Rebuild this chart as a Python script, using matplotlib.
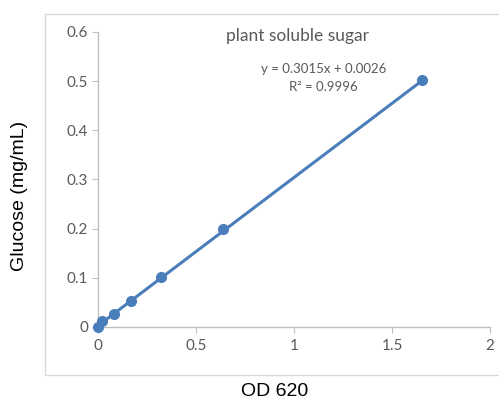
import matplotlib.pyplot as plt
import matplotlib.patches as mpatches
import numpy as np

# data
od620 = [0, 0.018, 0.08, 0.17, 0.32, 0.64, 1.655]
glucose = [0, 0.012, 0.026, 0.052, 0.101, 0.2, 0.503]
slope, intercept = 0.3015, 0.0026
x_ticks = [0, 0.5, 1, 1.5, 2]
x_ticklabels = ['0', '0.5', '1', '1.5', '2']
y_ticks = [0, 0.1, 0.2, 0.3, 0.4, 0.5, 0.6]
y_ticklabels = ['0', '0.1', '0.2', '0.3', '0.4', '0.5', '0.6']

BLUE = '#4A7EBB'
GREY = '#595959'
AXIS = '#BFBFBF'

fig = plt.figure(figsize=(4.99, 4.03), dpi=100, facecolor='white')
ax = fig.add_axes([0.1964, 0.1886, 0.7856, 0.732])

# chart-area border (Excel style)
fig.patches.append(mpatches.Rectangle((45 / 499, 1 - 375 / 403), 1.0, (375 - 14) / 403,
                                      transform=fig.transFigure, fill=False,
                                      edgecolor='#D9D9D9', linewidth=1.0))

# trendline
xt = np.array([od620[0], od620[-1]])
ax.plot(xt, slope * xt + intercept, color=BLUE, linewidth=2.2, zorder=2,
        solid_capstyle='round')
ax.plot(od620, glucose, 'o', color=BLUE, markersize=7, zorder=3, clip_on=False)

ax.set_xlim(0, 2)
ax.set_ylim(0, 0.6)
ax.set_xticks(x_ticks)
ax.set_xticklabels(x_ticklabels)
ax.set_yticks(y_ticks)
ax.set_yticklabels(y_ticklabels)

for s in ['top', 'right']:
    ax.spines[s].set_visible(False)
for s in ['left', 'bottom']:
    ax.spines[s].set_color(AXIS)
    ax.spines[s].set_linewidth(1.0)
ax.tick_params(axis='both', direction='out', length=4, width=0.8, color=AXIS,
               labelcolor=GREY, labelsize=11, pad=3)
for lab in ax.get_xticklabels() + ax.get_yticklabels():
    lab.set_family('Lato')
ax.tick_params(axis='x', pad=5)

ax.text(0.51, 0.985, 'plant soluble sugar', transform=ax.transAxes, ha='center',
        va='center', fontsize=12.5, color=GREY, family='Lato')
ax.text(1.15, 0.525, 'y = 0.3015x + 0.0026', ha='center', va='center',
        fontsize=9.5, color=GREY, family='Lato')
ax.text(1.15, 0.488, 'R² = 0.9996', ha='center', va='center',
        fontsize=9.5, color=GREY, family='Lato')

fig.text(275 / 499, 1 - 392 / 403, 'OD 620', ha='center', va='center',
         fontsize=14, family='Liberation Sans', color='black')
fig.text(20 / 499, 1 - 196 / 403, 'Glucose (mg/mL)', ha='center', va='center',
         rotation=90, fontsize=14, family='Liberation Sans', color='black')

fig.savefig('out.png', dpi=100, facecolor='white')
